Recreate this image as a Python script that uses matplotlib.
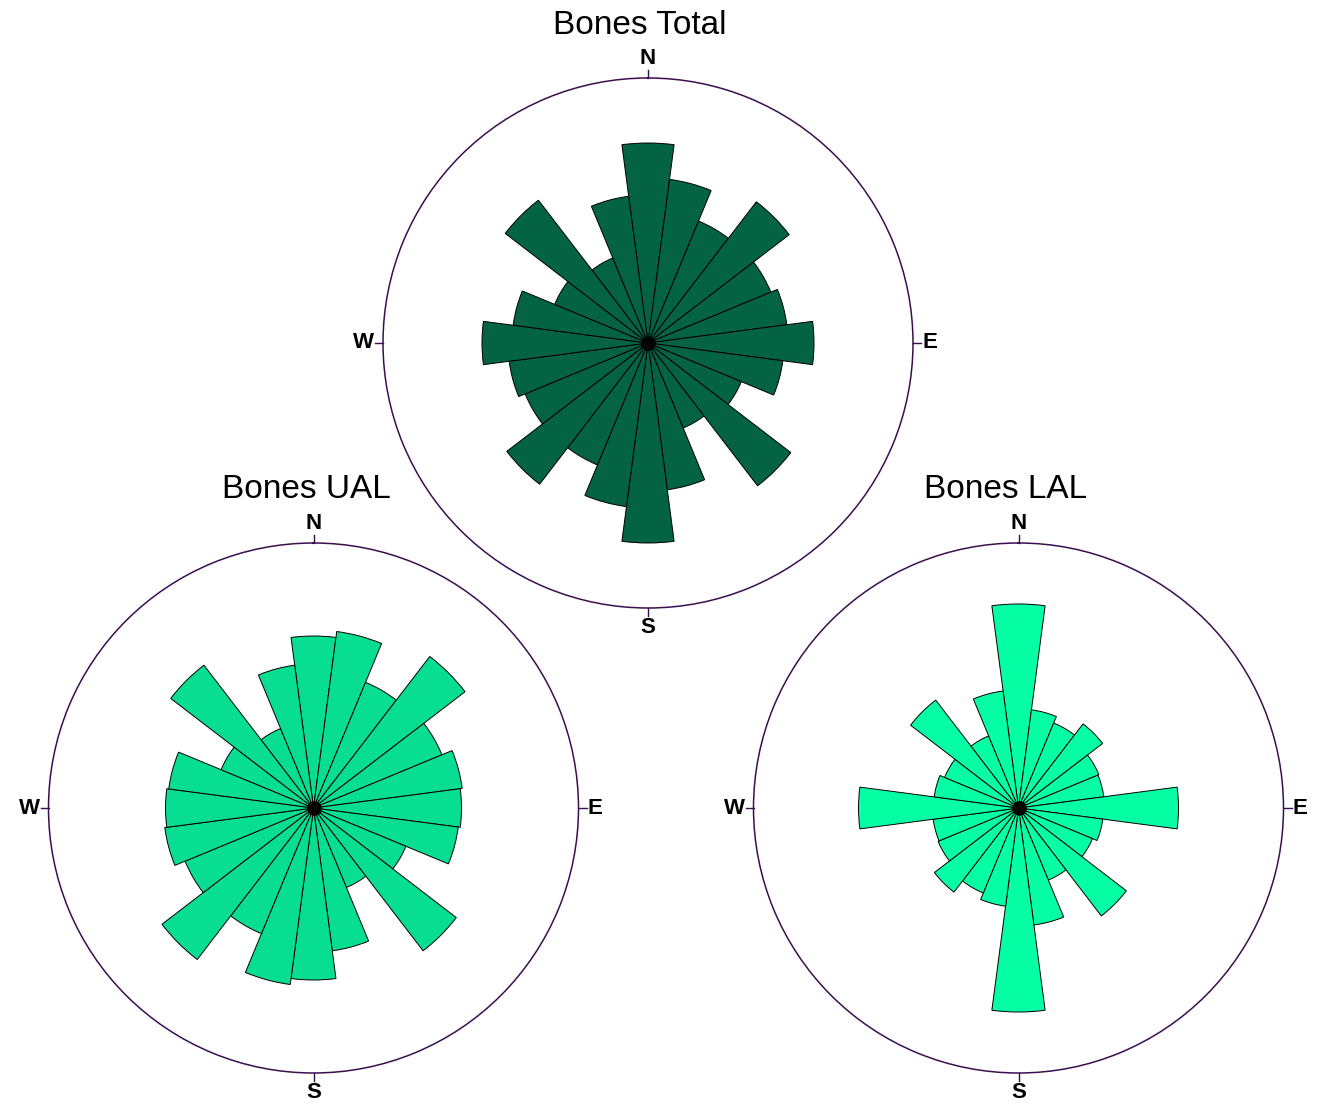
import numpy as np
import matplotlib
matplotlib.use("Agg")
import matplotlib.pyplot as plt

plt.rcParams['font.family'] = ['Liberation Sans', 'DejaVu Sans']

# Bin centres (degrees, clockwise from north), 15-degree sectors
bin_centers = np.arange(0, 360, 15)
bin_width_deg = 15

# Axial (bidirectional) rose values for 0..165 degrees; mirrored for 180..345
total_half = [200, 165, 132, 178, 133, 140, 166, 136, 101, 180, 92, 148]
ual_half = [172, 178, 136, 191, 139, 150, 148, 146, 100, 180, 86, 144]
lal_half = [204, 99, 92, 106, 87, 86, 160, 85, 80, 136, 78, 118]

total_vals = total_half + total_half
ual_vals = ual_half + ual_half
lal_vals = lal_half + lal_half

r_max = 265

titles = ["Bones Total", "Bones UAL", "Bones LAL"]
colors = ["#046343", "#08DE92", "#06FFA5"]
direction_labels = ["N", "E", "S", "W"]
direction_angles = [0, 90, 180, 270]

W, H = 1320, 1109
fig = plt.figure(figsize=(W / 100, H / 100), dpi=100)
fig.patch.set_facecolor("white")

# centre (px from left/top) and radius of each rose
layout = [(648, 343, 265), (313.5, 808, 265), (1018.5, 808, 265)]
title_pos = [(640, 26), (306, 490), (1006, 490)]
series = [total_vals, ual_vals, lal_vals]

spine_color = "#3b0f4f"
label_align = {
    "N": dict(ha="center", va="bottom"),
    "E": dict(ha="left", va="center"),
    "S": dict(ha="center", va="top"),
    "W": dict(ha="right", va="center"),
}

for (cx, cy, r), vals, color, title, (tx, ty) in zip(layout, series, colors, titles, title_pos):
    ax = fig.add_axes([(cx - r) / W, (H - cy - r) / H, 2 * r / W, 2 * r / H],
                      projection="polar")
    ax.set_theta_zero_location("N")
    ax.set_theta_direction(-1)
    theta = np.deg2rad(bin_centers)
    ax.bar(theta, vals, width=np.deg2rad(bin_width_deg), bottom=0,
           color=color, edgecolor="black", linewidth=0.7, zorder=3)
    ax.scatter([0], [0], s=90, color="black", zorder=5)
    ax.set_ylim(0, r_max)
    ax.grid(False)
    ax.set_yticks([])
    ax.set_xticks([])
    ax.spines["polar"].set_color(spine_color)
    ax.spines["polar"].set_linewidth(1.1)

    # compass ticks and labels outside the rim
    for lab, ang in zip(direction_labels, direction_angles):
        t = np.deg2rad(ang)
        ax.plot([t, t], [r_max, r_max + 8], color=spine_color, lw=1.0,
                clip_on=False, zorder=4)
        ax.text(t, r_max + 9, lab, fontsize=16, fontweight="bold",
                clip_on=False, **label_align[lab])

    fig.text(tx / W, 1 - ty / H, title, fontsize=24, ha="center", va="center")

fig.savefig("out.png", dpi=100, facecolor="white")
